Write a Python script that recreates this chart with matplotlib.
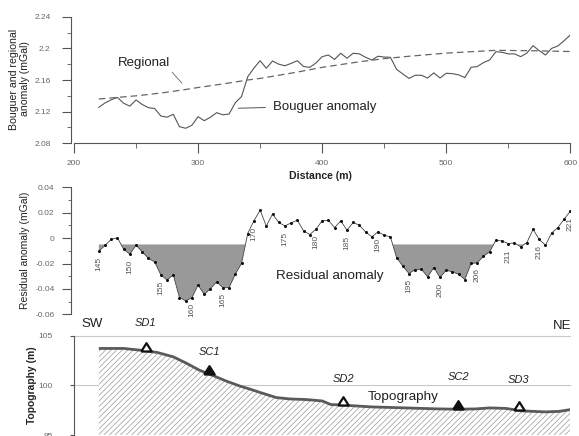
import numpy as np
import matplotlib
matplotlib.use('Agg')
import matplotlib.pyplot as plt
from matplotlib.ticker import MultipleLocator, FuncFormatter, FixedLocator

plt.rcParams['font.family'] = ['Liberation Sans', 'DejaVu Sans']
plt.rcParams['hatch.linewidth'] = 0.5

# Profile stations, one every 5 m along the line
stations = np.arange(145, 222)
distance = np.arange(220, 601, 5)

# Observed Bouguer anomaly (mGal) at each station
bouguer = [2.1255, 2.131, 2.135, 2.138, 2.1306, 2.127, 2.1348, 2.129, 2.125, 2.124,
           2.1145, 2.113, 2.1167, 2.101, 2.099, 2.1028, 2.1136, 2.1086, 2.113, 2.1187,
           2.116, 2.117, 2.1313, 2.139, 2.164, 2.175, 2.1844, 2.1748, 2.184, 2.180,
           2.178, 2.181, 2.1844, 2.177, 2.176, 2.1815, 2.1895, 2.1916, 2.186, 2.1938,
           2.1875, 2.1938, 2.193, 2.1887, 2.1853, 2.190, 2.189, 2.1887, 2.1735, 2.1676,
           2.162, 2.166, 2.166, 2.1625, 2.169, 2.1625, 2.1685, 2.168, 2.1665, 2.163,
           2.176, 2.177, 2.182, 2.1853, 2.1958, 2.195, 2.193, 2.193, 2.1895, 2.194,
           2.2034, 2.197, 2.1916, 2.200, 2.203, 2.2097, 2.2169]

# Regional trend (mGal)
regional_x = [220, 250, 270, 290, 300, 320, 340, 350, 380, 400, 430, 450, 470, 500, 540, 570, 600]
regional = [2.136, 2.140, 2.1435, 2.148, 2.1505, 2.155, 2.160, 2.162, 2.170, 2.176,
            2.183, 2.187, 2.190, 2.194, 2.1975, 2.197, 2.196]

# Residual anomaly (mGal) at each station
residual = [-0.0103, -0.0058, -0.0009, 0.0002, -0.0087, -0.0127, -0.0056, -0.0108, -0.016, -0.0187,
            -0.029, -0.033, -0.029, -0.0468, -0.0494, -0.047, -0.037, -0.0444, -0.0397, -0.0345,
            -0.039, -0.039, -0.0284, -0.020, 0.0036, 0.0136, 0.022, 0.0094, 0.019, 0.0123,
            0.0096, 0.012, 0.0141, 0.0057, 0.0028, 0.007, 0.0136, 0.0141, 0.0083, 0.0136,
            0.0062, 0.0123, 0.0102, 0.0049, 0.001, 0.0049, 0.0023, 0.001, -0.0153, -0.0221,
            -0.0279, -0.0248, -0.0245, -0.0305, -0.0232, -0.031, -0.0253, -0.0266, -0.0284, -0.0326,
            -0.020, -0.0195, -0.0143, -0.0108, -0.0017, -0.0022, -0.0043, -0.0038, -0.0069, -0.0035,
            0.0068, -0.0011, -0.0056, 0.0041, 0.0083, 0.0149, 0.0212]
residual_base = -0.005
labelled = [145, 150, 155, 160, 165, 170, 175, 180, 185, 190, 195, 200, 206, 211, 216, 221]

# Ground elevation (m)
topo_x = [220, 240, 253, 267, 280, 291, 301, 310, 323, 334, 342, 350, 363, 374, 387,
          400, 407, 418, 440, 467, 494, 510, 524, 535, 548, 561, 580, 591, 600]
topo = [103.72, 103.72, 103.55, 103.32, 102.88, 102.21, 101.54, 101.1, 100.43, 99.93,
        99.63, 99.3, 98.79, 98.65, 98.59, 98.45, 98.09, 98.02, 97.85, 97.75,
        97.65, 97.62, 97.65, 97.75, 97.7, 97.45, 97.35, 97.4, 97.58]

# Survey sites along the profile
site_names = ['SD1', 'SC1', 'SD2', 'SC2', 'SD3']
site_x = [258, 309, 417, 509.5, 558.6]
site_filled = [False, True, False, True, False]

W, H = 579, 436
fig = plt.figure(figsize=(W / 100, H / 100), dpi=100)
fig.patch.set_facecolor('white')

left = 74 / W
width = 496.3 / W
ax1 = fig.add_axes([left, 1 - 143.3 / H, width, 126.6 / H])
ax2 = fig.add_axes([left, 1 - 314.3 / H, width, 127.0 / H])
ax3 = fig.add_axes([left, 1 - 435.3 / H, width, 99.6 / H])

axis_col = '#555555'
tick_col = '#666666'
fmt = FuncFormatter(lambda v, p: f'{v:g}')

for ax in (ax1, ax2, ax3):
    ax.set_xlim(200, 600)
    ax.patch.set_alpha(0)
    for s in ('top', 'right'):
        ax.spines[s].set_visible(False)
    for s in ('left', 'bottom'):
        ax.spines[s].set_color(axis_col)
        ax.spines[s].set_linewidth(0.8)
    ax.tick_params(colors=axis_col, labelcolor=tick_col, labelsize=6, width=0.8)

# --- Bouguer and regional ---
ax1.plot(distance, bouguer, color='#555555', lw=0.8)
ax1.plot(regional_x, regional, color='#666666', lw=0.9, linestyle=(0, (5.3, 3.2)))
ax1.set_ylim(2.08, 2.24)
ax1.spines['left'].set_position(('outward', 2))
ax1.yaxis.set_major_locator(MultipleLocator(0.04))
ax1.yaxis.set_minor_locator(MultipleLocator(0.02))
ax1.yaxis.set_major_formatter(fmt)
ax1.xaxis.set_major_locator(MultipleLocator(100))
ax1.xaxis.set_minor_locator(MultipleLocator(50))
ax1.tick_params(axis='y', which='major', length=6.8, pad=8)
ax1.tick_params(axis='y', which='minor', length=2.9, color=axis_col)
ax1.tick_params(axis='x', which='major', length=7.2, pad=4.5)
ax1.tick_params(axis='x', which='minor', length=3.6, color=axis_col)

ax1.annotate('Regional', xy=(287, 2.1559), xytext=(235, 2.181), fontsize=9.5,
             color='#222222', ha='left', va='center',
             arrowprops=dict(arrowstyle='-', color='#666666', lw=0.6,
                             shrinkA=0, shrinkB=0, relpos=(1, 0)))
ax1.annotate('Bouguer anomaly', xy=(332.5, 2.1243), xytext=(360, 2.1255), fontsize=9.5,
             color='#222222', ha='left', va='center',
             arrowprops=dict(arrowstyle='-', color='#555555', lw=0.7,
                             shrinkA=3, shrinkB=0, relpos=(0, 0.5)))

# --- Residual anomaly ---
res = np.array(residual)
ax2.fill_between(distance, res, residual_base, where=res < residual_base,
                 interpolate=True, facecolor='#999999', edgecolor='none')
ax2.plot(distance, res, color='#444444', lw=0.6, marker='o', ms=1.2,
         mfc='#111111', mec='#111111')
ax2.set_ylim(-0.06, 0.04)
ax2.spines['bottom'].set_visible(False)
ax2.spines['left'].set_position(('outward', 2))
ax2.set_xticks([])
ax2.yaxis.set_major_locator(MultipleLocator(0.02))
ax2.yaxis.set_minor_locator(MultipleLocator(0.01))
ax2.yaxis.set_major_formatter(fmt)
ax2.tick_params(axis='y', which='major', length=6.5, pad=5.5)
ax2.tick_params(axis='y', which='minor', length=2.5, color=axis_col)

for n in labelled:
    i = int(np.where(stations == n)[0][0])
    ax2.annotate(str(n), xy=(distance[i], res[i]), xytext=(0, -4),
                 textcoords='offset points', rotation=90, ha='center', va='top',
                 fontsize=6, color='#555555')
ax2.text(362.8, -0.030, 'Residual anomaly', fontsize=9.7, color='#222222',
         ha='left', va='center')

# --- Topography ---
ax3.fill_between(topo_x, topo, 95, facecolor='white', edgecolor='#999999',
                 hatch='//////', linewidth=0)
ax3.plot(topo_x, topo, color='#5a5a5a', lw=2, solid_capstyle='butt')
ax3.set_ylim(95, 105)
ax3.spines['bottom'].set_visible(False)
ax3.set_xticks([])
ax3.yaxis.set_major_locator(FixedLocator([95, 100, 105]))
ax3.yaxis.set_major_formatter(fmt)
ax3.tick_params(axis='y', length=3.1, pad=12)
for yv in (100, 105):
    ax3.axhline(yv, color='#c8c8c8', lw=0.8, zorder=0.5, clip_on=False)

tri = [(-1, 0), (1, 0), (0, 1.6), (-1, 0)]
site_z = np.interp(site_x, topo_x, topo)
for x, z, filled in zip(site_x, site_z, site_filled):
    ax3.plot([x], [z], marker=tri, ms=12, mew=1.6, mec='#111111',
             mfc='#111111' if filled else 'white', zorder=5)

site_label_y = [106.24, 103.38, 100.70, 100.87, 100.60]
for name, x, y in zip(site_names, site_x, site_label_y):
    ax3.text(x, y, name, fontsize=8, style='italic', color='#222222',
             ha='center', va='center')
ax3.text(214.3, 106.14, 'SW', fontsize=9.5, color='#222222', ha='center', va='center')
ax3.text(593.3, 106.0, 'NE', fontsize=9.5, color='#222222', ha='center', va='center')
ax3.text(436.4, 98.85, 'Topography', fontsize=9.7, color='#222222',
         ha='left', va='center')

# Axis titles
fig.text(19.5 / W, 1 - 79 / H, 'Bouguer and regional\nanomaly (mGal)', rotation=90,
         ha='center', va='center', fontsize=7.6, color='#222222', linespacing=1.1)
fig.text(25 / W, 1 - 250 / H, 'Residual anomaly (mGal)', rotation=90,
         ha='center', va='center', fontsize=7.5, color='#222222')
fig.text(31.7 / W, 1 - 385 / H, 'Topography (m)', rotation=90,
         ha='center', va='center', fontsize=7.4, fontweight='bold', color='#222222')
fig.text(320 / W, 1 - 176.3 / H, 'Distance (m)', ha='center', va='center',
         fontsize=7.6, fontweight='bold', color='#222222')

fig.savefig('out.png', dpi=100)
